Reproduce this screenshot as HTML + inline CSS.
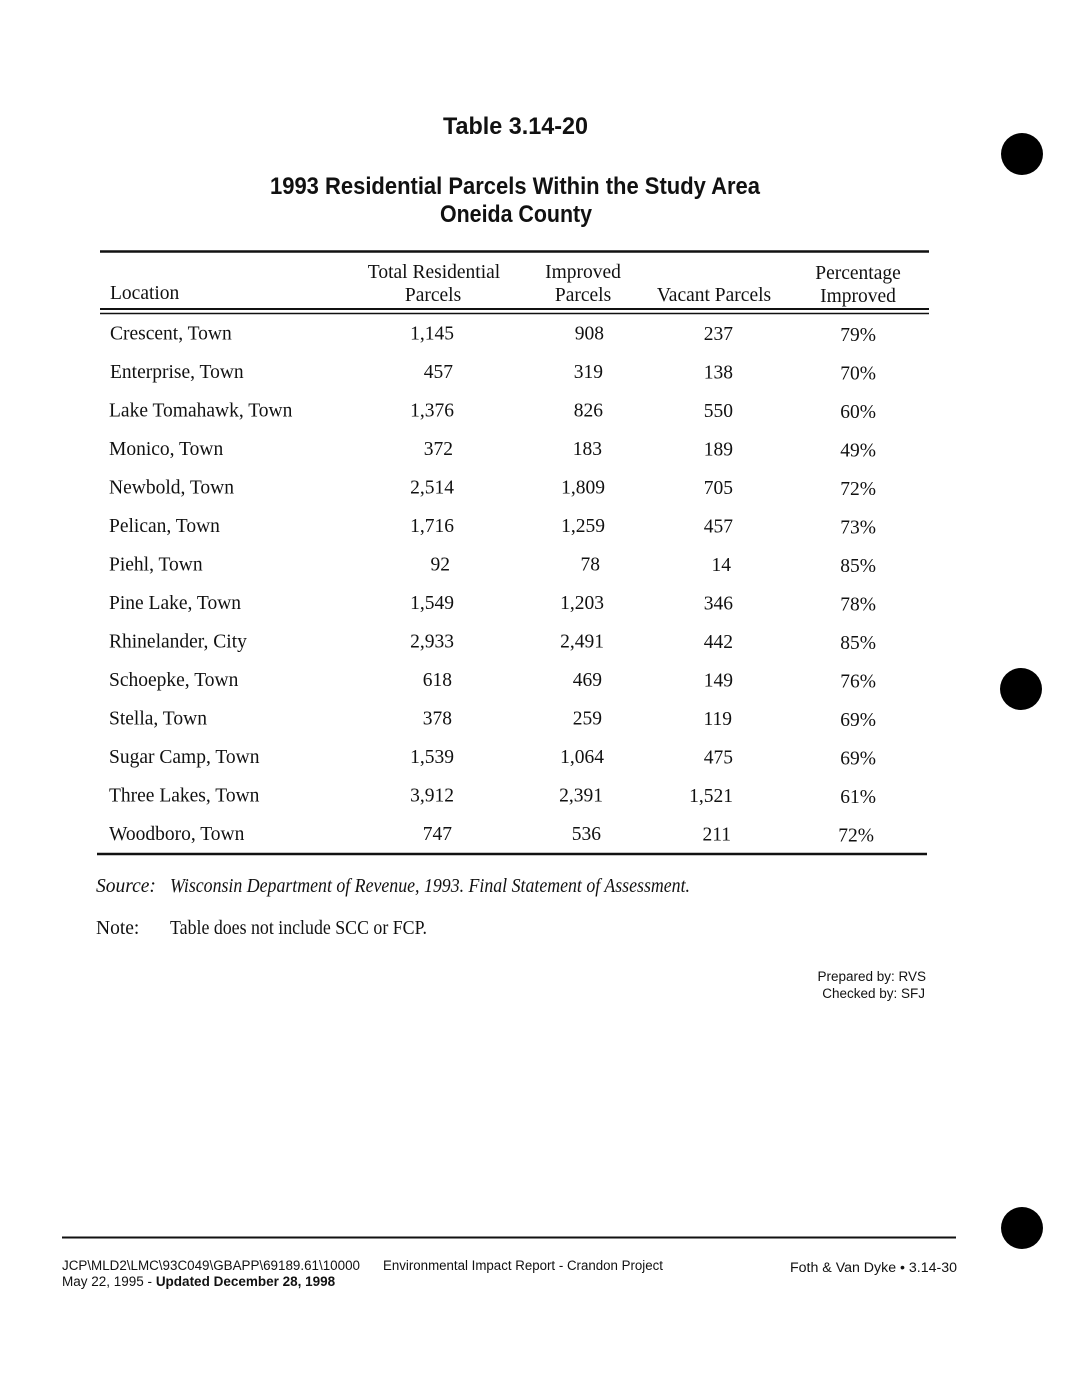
<!DOCTYPE html>
<html><head><meta charset="utf-8"><style>
html,body{margin:0;padding:0;background:#fff}
svg{display:block}
.s{font-family:"Liberation Serif",serif;font-size:19.5px;fill:#111}
.h{font-family:"Liberation Sans",sans-serif;font-weight:bold;fill:#111}
.f{font-family:"Liberation Sans",sans-serif;font-size:13.5px;fill:#111}
</style></head><body>
<svg width="1068" height="1380" viewBox="0 0 1068 1380" xmlns="http://www.w3.org/2000/svg">
<rect width="1068" height="1380" fill="#fff"/>
<!-- titles -->
<text class="h" x="443" y="134" font-size="24" textLength="145" lengthAdjust="spacingAndGlyphs">Table 3.14-20</text>
<text class="h" x="270" y="194" font-size="24" textLength="490" lengthAdjust="spacingAndGlyphs">1993 Residential Parcels Within the Study Area</text>
<text class="h" x="440" y="222" font-size="24" textLength="152" lengthAdjust="spacingAndGlyphs">Oneida County</text>
<!-- rules -->
<line x1="100" y1="251.5" x2="929" y2="251.5" stroke="#111" stroke-width="2.5"/>
<line x1="100" y1="309" x2="929" y2="309" stroke="#111" stroke-width="2"/>
<line x1="100" y1="313.5" x2="929" y2="313.5" stroke="#111" stroke-width="1.5"/>
<line x1="97" y1="854" x2="927" y2="854" stroke="#111" stroke-width="2.5"/>
<line x1="62" y1="1237.5" x2="956" y2="1237.5" stroke="#111" stroke-width="2"/>
<!-- header -->
<g class="s" text-anchor="middle">
<text x="434" y="278">Total Residential</text>
<text x="433" y="301">Parcels</text>
<text x="583" y="278">Improved</text>
<text x="583" y="301">Parcels</text>
<text x="714" y="301">Vacant Parcels</text>
<text x="858" y="279">Percentage</text>
<text x="858" y="302">Improved</text>
</g>
<text class="s" x="110" y="299">Location</text>
<!-- rows -->
<g class="s">
<text x="110" y="339.5">Crescent, Town</text>
<text x="110" y="378">Enterprise, Town</text>
<text x="109" y="416.5">Lake Tomahawk, Town</text>
<text x="109" y="455">Monico, Town</text>
<text x="109" y="493.5">Newbold, Town</text>
<text x="109" y="532">Pelican, Town</text>
<text x="109" y="570.5">Piehl, Town</text>
<text x="109" y="609">Pine Lake, Town</text>
<text x="109" y="647.5">Rhinelander, City</text>
<text x="109" y="686">Schoepke, Town</text>
<text x="109" y="724.5">Stella, Town</text>
<text x="109" y="763">Sugar Camp, Town</text>
<text x="109" y="801.5">Three Lakes, Town</text>
<text x="109" y="840">Woodboro, Town</text>
</g>
<g class="s" text-anchor="end">
<text x="454" y="339.5">1,145</text><text x="604" y="339.5">908</text><text x="733" y="340">237</text><text x="876" y="341">79%</text>
<text x="453" y="378">457</text><text x="603" y="378">319</text><text x="733" y="378.5">138</text><text x="876" y="379.5">70%</text>
<text x="454" y="416.5">1,376</text><text x="603" y="416.5">826</text><text x="733" y="417">550</text><text x="876" y="418">60%</text>
<text x="453" y="455">372</text><text x="602" y="455">183</text><text x="733" y="455.5">189</text><text x="876" y="456.5">49%</text>
<text x="454" y="493.5">2,514</text><text x="605" y="493.5">1,809</text><text x="733" y="494">705</text><text x="876" y="495">72%</text>
<text x="454" y="532">1,716</text><text x="605" y="532">1,259</text><text x="733" y="532.5">457</text><text x="876" y="533.5">73%</text>
<text x="450" y="570.5">92</text><text x="600" y="570.5">78</text><text x="731" y="571">14</text><text x="876" y="572">85%</text>
<text x="454" y="609">1,549</text><text x="604" y="609">1,203</text><text x="733" y="609.5">346</text><text x="876" y="610.5">78%</text>
<text x="454" y="647.5">2,933</text><text x="604" y="647.5">2,491</text><text x="733" y="648">442</text><text x="876" y="649">85%</text>
<text x="452" y="686">618</text><text x="602" y="686">469</text><text x="733" y="686.5">149</text><text x="876" y="687.5">76%</text>
<text x="452" y="724.5">378</text><text x="602" y="724.5">259</text><text x="732" y="725">119</text><text x="876" y="726">69%</text>
<text x="454" y="763">1,539</text><text x="604" y="763">1,064</text><text x="733" y="763.5">475</text><text x="876" y="764.5">69%</text>
<text x="454" y="801.5">3,912</text><text x="603" y="801.5">2,391</text><text x="733" y="802">1,521</text><text x="876" y="803">61%</text>
<text x="452" y="840">747</text><text x="601" y="840">536</text><text x="731" y="840.5">211</text><text x="874" y="841.5">72%</text>
</g>
<!-- source / note -->
<text class="s" x="96" y="892" font-style="italic" font-size="18">Source:</text>
<text class="s" x="170" y="892" font-style="italic" font-size="18" textLength="520" lengthAdjust="spacingAndGlyphs">Wisconsin Department of Revenue, 1993.  Final Statement of Assessment.</text>
<text class="s" x="96" y="934" font-size="18">Note:</text>
<text class="s" x="170" y="934" font-size="18" textLength="257" lengthAdjust="spacingAndGlyphs">Table does not include SCC or FCP.</text>
<!-- prepared -->
<text class="f" x="926" y="981" text-anchor="end" font-size="13.5">Prepared by: RVS</text>
<text class="f" x="925" y="998" text-anchor="end" font-size="13.5">Checked by: SFJ</text>
<!-- footer -->
<text class="f" x="62" y="1270" textLength="298" lengthAdjust="spacingAndGlyphs">JCP\MLD2\LMC\93C049\GBAPP\69189.61\10000</text>
<text class="f" x="62" y="1286">May 22, 1995 - <tspan font-weight="bold">Updated December 28, 1998</tspan></text>
<text class="f" x="383" y="1270" textLength="280" lengthAdjust="spacingAndGlyphs">Environmental Impact Report - Crandon Project</text>
<text class="f" x="790" y="1272" textLength="167" lengthAdjust="spacingAndGlyphs">Foth &amp; Van Dyke • 3.14-30</text>
<!-- punch holes -->
<circle cx="1022" cy="154" r="21" fill="#000"/>
<circle cx="1021" cy="689" r="21" fill="#000"/>
<circle cx="1022" cy="1228" r="21" fill="#000"/>
</svg>
</body></html>
